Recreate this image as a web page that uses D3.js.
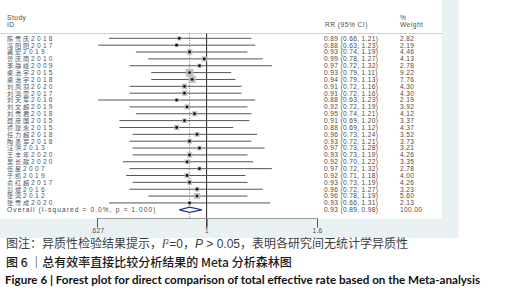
<!DOCTYPE html>
<html><head><meta charset="utf-8">
<script src="https://cdn.jsdelivr.net/npm/d3@7"></script>
<style>body{margin:0;background:#fff}svg{display:block}</style>
</head><body>
<script>
const studies = ["陈雪庆2018","冯阳阳2017","龚宏2019","曾庆雨2010","李静峰2009","梁治宇2015","梁治宇2018","刘凤羽2020","刘鸿雷2017","刘天军2016","刘文超2019","刘雪君2018","聂彦国2015","乔建永2015","任力超2018","陶勇军2018","汪洪2013","王丰年2020","吴长献2020","伍星2007","于凯2019","俞红超2017","彭斌2016","张鸿2012","张雪成2020"];
const rr      = [0.89,0.88,0.93,0.99,0.97,0.93,0.94,0.91,0.91,0.88,0.92,0.95,0.91,0.88,0.96,0.93,0.97,0.93,0.92,0.97,0.92,0.93,0.96,0.96,0.93];
const lower   = [0.66,0.63,0.74,0.78,0.72,0.79,0.79,0.72,0.72,0.63,0.72,0.74,0.69,0.69,0.73,0.72,0.73,0.73,0.70,0.72,0.71,0.73,0.72,0.78,0.66];
const upper   = [1.21,1.23,1.19,1.27,1.32,1.11,1.13,1.16,1.16,1.23,1.19,1.21,1.20,1.12,1.24,1.21,1.28,1.19,1.22,1.32,1.18,1.19,1.27,1.19,1.31];
const weights = [2.82,2.19,4.46,4.13,2.78,9.22,7.76,4.30,4.30,2.19,3.92,4.12,3.37,4.37,3.52,3.73,3.21,4.26,3.35,2.78,4.00,4.26,3.23,5.60,2.13];
const overallLabel = "Overall  (I-squared = 0.0%, p = 1.000)";
const overallRR = [0.93, 0.89, 0.98];
const overallWeight = "100.00";
const tickValues = [0.627, 1, 1.6];
const tickLabels = [".627", "1", "1.6"];

const W = 514, H = 295;
const svg = d3.select("body").append("svg").attr("width", W).attr("height", H);

// graph region & plot region
svg.append("rect").attr("x",0).attr("y",0).attr("width",458.5).attr("height",238).attr("fill","#eaf1f2");
svg.append("rect").attr("x",0).attr("y",0).attr("width",442).attr("height",218.5).attr("fill","#ffffff");

const x = d3.scaleLog().domain([0.627, 1.6]).range([97, 317]);
const rows = d3.range(studies.length + 1);
const y = d3.scalePoint().domain(rows).range([38.3, 209.8]);

const latin = "'Liberation Sans', Arial, sans-serif";
const txtCol = "#4a4a4a";

// header
const hdr = svg.append("g").attr("font-family", latin).attr("font-size", 6.6).attr("fill", txtCol).attr("letter-spacing", 0.5);
hdr.append("text").attr("x", 7).attr("y", 19.5).text("Study");
hdr.append("text").attr("x", 7).attr("y", 26.5).text("ID");
hdr.append("text").attr("x", 325).attr("y", 26.5).text("RR (95% CI)");
hdr.append("text").attr("x", 400).attr("y", 19.5).text("%");
hdr.append("text").attr("x", 400).attr("y", 26.5).text("Weight");
svg.append("line").attr("x1",0).attr("x2",442).attr("y1",33.5).attr("y2",33.5).attr("stroke","#d0d0d0").attr("stroke-width",1);

// reference lines
svg.append("line").attr("x1", x(1)).attr("x2", x(1)).attr("y1", 33.5).attr("y2", 227.5).attr("stroke","#222").attr("stroke-width",1);
svg.append("line").attr("x1", x(overallRR[0])).attr("x2", x(overallRR[0])).attr("y1", 33.5).attr("y2", 218)
  .attr("stroke","#d08a98").attr("stroke-width",1.1).attr("stroke-dasharray","1.5,1.5");

// studies
const data = studies.map((s,i)=>({s, rr:rr[i], lo:lower[i], hi:upper[i], w:weights[i], i}));
const g = svg.append("g");
g.selectAll("line.ci").data(data).join("line").attr("class","ci")
  .attr("x1", d=>x(d.lo)).attr("x2", d=>x(d.hi)).attr("y1", d=>y(d.i)).attr("y2", d=>y(d.i))
  .attr("stroke","#555").attr("stroke-width",1);
const k = 2.6;
g.selectAll("rect.box").data(data).join("rect").attr("class","box")
  .attr("x", d=>x(d.rr) - k*Math.sqrt(d.w)/2).attr("y", d=>y(d.i) - k*Math.sqrt(d.w)/2)
  .attr("width", d=>k*Math.sqrt(d.w)).attr("height", d=>k*Math.sqrt(d.w))
  .attr("fill","#b8b8b8").attr("opacity",0.85);
g.selectAll("circle.pt").data(data).join("circle").attr("class","pt")
  .attr("cx", d=>x(d.rr)).attr("cy", d=>y(d.i)).attr("r", 1.4).attr("fill","#111");

// text columns
const tg = svg.append("g").attr("font-size", 6.6).attr("fill", txtCol);
const lab = tg.selectAll("text.st").data(data).join("text").attr("class","st")
  .attr("x", 7).attr("y", d=>y(d.i)+2.4).attr("font-size", 6.2).attr("fill", "#555");
lab.append("tspan").attr("font-family","'Noto Sans CJK SC', sans-serif").attr("letter-spacing", 1.8)
  .text(d=>d.s.replace(/\d+$/, ""));
lab.append("tspan").attr("font-family", latin).attr("font-size", 6.6).attr("letter-spacing", 2.3)
  .text(d=>d.s.match(/\d+$/)[0]);
tg.selectAll("text.rr").data(data).join("text").attr("class","rr")
  .attr("x", 324).attr("y", d=>y(d.i)+2.4).attr("font-family", latin).attr("letter-spacing", 0.35)
  .text(d=>`${d.rr.toFixed(2)} (${d.lo.toFixed(2)}, ${d.hi.toFixed(2)})`);
tg.selectAll("text.wt").data(data).join("text").attr("class","wt")
  .attr("x", 400).attr("y", d=>y(d.i)+2.4).attr("font-family", latin).attr("letter-spacing", 0.35)
  .text(d=>d.w.toFixed(2));

// overall
const yo = y(studies.length);
tg.append("text").attr("x", 7).attr("y", yo+2.4).attr("font-family", latin).attr("letter-spacing", 1.1).text(overallLabel);
tg.append("text").attr("x", 324).attr("y", yo+2.4).attr("font-family", latin).attr("letter-spacing", 0.35)
  .text(`${overallRR[0].toFixed(2)} (${overallRR[1].toFixed(2)}, ${overallRR[2].toFixed(2)})`);
tg.append("text").attr("x", 400).attr("y", yo+2.4).attr("font-family", latin).attr("letter-spacing", 0.35).text(overallWeight);
const dh = 2.6;
svg.append("path")
  .attr("d", `M${x(overallRR[1])},${yo} L${x(overallRR[0])},${yo-dh} L${x(overallRR[2])},${yo} L${x(overallRR[0])},${yo+dh} Z`)
  .attr("fill","#fff").attr("stroke","#23388a").attr("stroke-width",1.2);

// axis
const axis = d3.axisBottom(x).tickValues(tickValues).tickFormat((d,i)=>tickLabels[i]).tickSize(9).tickPadding(1);
const ax = svg.append("g").attr("transform","translate(0,218.5)").call(axis);
ax.select(".domain").attr("stroke","#9a9a9a").attr("d", `M${x(tickValues[0])},0H${x(tickValues[2])}`);
ax.selectAll(".tick line").attr("stroke","#555");
ax.selectAll(".tick text").attr("font-family", latin).attr("font-size", 6.5).attr("fill", txtCol).attr("letter-spacing",0.4);

// captions
const cjk = "'Noto Sans CJK SC', sans-serif";
const c1 = svg.append("text").attr("x", 6).attr("y", 247.5).attr("font-family", cjk).attr("font-size", 12).attr("fill", "#3c3c3c");
c1.append("tspan").text("图注：异质性检验结果提示，");
c1.append("tspan").attr("font-style","italic").attr("font-family","'Liberation Sans', sans-serif").text("I");
c1.append("tspan").attr("dy",-4).attr("font-size",7).text("2");
c1.append("tspan").attr("dy",4).attr("font-family","'Liberation Sans', sans-serif").text("=0");
c1.append("tspan").text("，");
c1.append("tspan").attr("font-style","italic").attr("font-family","'Liberation Sans', sans-serif").text("P");
c1.append("tspan").attr("font-family","'Liberation Sans', sans-serif").text(" > 0.05");
c1.append("tspan").text("，表明各研究间无统计学异质性");

svg.append("text").attr("x", 6).attr("y", 266.5).attr("font-family", cjk).attr("font-size", 12).attr("fill", "#1a1a1a")
  .attr("font-weight", 500).text("图 6 ｜总有效率直接比较分析结果的 Meta 分析森林图");

svg.append("text").attr("x", 5).attr("y", 284).attr("font-family", "Lato, 'Open Sans', sans-serif").attr("font-size", 11.5)
  .attr("font-weight", "bold").attr("fill", "#111").attr("textLength", 475).attr("lengthAdjust","spacingAndGlyphs")
  .text("Figure 6  |  Forest plot for direct comparison of total effective rate based on the Meta-analysis");
</script>
</body></html>
